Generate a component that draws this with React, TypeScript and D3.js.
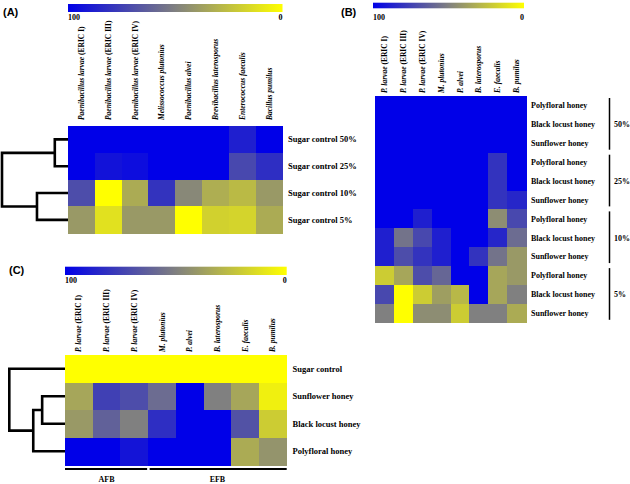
import React from "react";
import * as d3 from "d3";

// ---------- DATA ----------
const speciesFull = [
  "Paenibacillus larvae (ERIC I)",
  "Paenibacillus larvae (ERIC III)",
  "Paenibacillus larvae (ERIC IV)",
  "Melissococcus plutonius",
  "Paenibacillus alvei",
  "Brevibacillus laterosporus",
  "Enterococcus faecalis",
  "Bacillus pumilus",
];
const speciesShort = [
  "P. larvae (ERIC I)",
  "P. larvae (ERIC III)",
  "P. larvae (ERIC IV)",
  "M. plutonius",
  "P. alvei",
  "B. laterosporus",
  "E. faecalis",
  "B. pumilus",
];

const rowsA = ["Sugar control 50%", "Sugar control 25%", "Sugar control 10%", "Sugar control 5%"];
const valuesA = [
  [100, 100, 100, 100, 100, 100, 88, 100],
  [100, 93, 95, 100, 100, 100, 72, 82],
  [70, 0, 33, 80, 47, 32, 27, 40],
  [40, 12, 40, 40, 0, 18, 17, 33],
];
// linkage: [childA, childB, height] (index >= n refers to an earlier merge)
const linkA: [number, number, number][] = [
  [0, 1, 0.2],
  [2, 3, 0.47],
  [4, 5, 1],
];

const honeysB = ["Polyfloral honey", "Black locust honey", "Sunflower honey"];
const concB = ["50%", "25%", "10%", "5%"];
const valuesB = [
  [100, 100, 100, 100, 100, 100, 100, 100],
  [100, 100, 100, 100, 100, 100, 100, 100],
  [100, 100, 100, 100, 100, 100, 100, 100],
  [100, 100, 100, 100, 100, 100, 80, 100],
  [100, 100, 100, 100, 100, 100, 80, 100],
  [100, 100, 100, 100, 100, 100, 80, 85],
  [100, 100, 88, 100, 100, 100, 45, 72],
  [88, 55, 72, 88, 100, 100, 85, 58],
  [88, 70, 80, 88, 100, 80, 55, 40],
  [20, 35, 70, 60, 100, 100, 35, 40],
  [72, 0, 20, 38, 28, 100, 35, 50],
  [50, 0, 45, 45, 20, 50, 50, 33],
];

const rowsC = ["Sugar control", "Sunflower honey", "Black locust honey", "Polyfloral honey"];
const valuesC = [
  [0, 0, 0, 0, 0, 0, 0, 0],
  [35, 75, 70, 58, 100, 50, 35, 6],
  [40, 62, 50, 82, 100, 100, 68, 20],
  [100, 100, 92, 100, 100, 100, 33, 42],
];
const linkC: [number, number, number][] = [
  [1, 2, 0.41],
  [4, 3, 0.57],
  [0, 5, 1],
];
const groupsC = [
  { name: "AFB", count: 3 },
  { name: "EFB", count: 5 },
];

const colorbarTicks = [100, 0];

// ---------- STYLE ----------
const SERIF = "'Liberation Serif', 'Times New Roman', serif";
const SANS = "'Liberation Sans', Arial, sans-serif";

const color = d3
  .scaleLinear<string>()
  .domain([100, 50, 0])
  .range(["#0000e8", "#808080", "#ffff00"])
  .interpolate(d3.interpolateRgb);

function SpeciesLabel({ text, x, y, size }: { text: string; x: number; y: number; size: number }) {
  const i = text.indexOf(" (");
  const main = i >= 0 ? text.slice(0, i) : text;
  const rest = i >= 0 ? text.slice(i) : "";
  return (
    <text
      transform={`translate(${x},${y}) rotate(-90)`}
      dy="0.35em"
      fontFamily={SERIF}
      fontSize={size}
      fontWeight="bold"
    >
      <tspan fontStyle="italic">{main}</tspan>
      {rest && <tspan>{rest}</tspan>}
    </text>
  );
}

function Colorbar({ id, x0, x1, y, h, labelY }: { id: string; x0: number; x1: number; y: number; h: number; labelY: number }) {
  const s = d3.scaleLinear().domain([100, 0]).range([x0, x1]);
  const stops = d3.range(0, 11).map((i) => 100 - i * 10);
  return (
    <g>
      <defs>
        <linearGradient id={id} x1="0" x2="1" y1="0" y2="0">
          {stops.map((v) => (
            <stop key={v} offset={`${100 - v}%`} stopColor={color(v)} />
          ))}
        </linearGradient>
      </defs>
      <rect x={x0} y={y} width={x1 - x0} height={h} fill={`url(#${id})`} />
      {colorbarTicks.map((t, i) => (
        <text
          key={t}
          x={s(t)}
          y={labelY}
          textAnchor={i === 0 ? "start" : "end"}
          fontFamily={SERIF}
          fontSize={8}
          fontWeight="bold"
        >
          {t}
        </text>
      ))}
    </g>
  );
}

function Heatmap({
  rows,
  cols,
  values,
  x0,
  x1,
  y0,
  y1,
}: {
  rows: string[];
  cols: string[];
  values: number[][];
  x0: number;
  x1: number;
  y0: number;
  y1: number;
}) {
  const xs = d3.scaleBand<number>().domain(d3.range(cols.length)).range([x0, x1]);
  const ys = d3.scaleBand<number>().domain(d3.range(rows.length)).range([y0, y1]);
  return (
    <g shapeRendering="crispEdges">
      {values.map((row, r) =>
        row.map((v, c) => (
          <rect
            key={`${r}-${c}`}
            x={xs(c)}
            y={ys(r)}
            width={xs.bandwidth() + 0.6}
            height={ys.bandwidth() + 0.6}
            fill={color(v)}
          />
        ))
      )}
    </g>
  );
}

function Dendrogram({
  n,
  link,
  y0,
  y1,
  xLeaf,
  xRoot,
}: {
  n: number;
  link: [number, number, number][];
  y0: number;
  y1: number;
  xLeaf: number;
  xRoot: number;
}) {
  const ys = d3.scaleBand<number>().domain(d3.range(n)).range([y0, y1]);
  const xs = d3.scaleLinear().domain([0, 1]).range([xLeaf, xRoot]);
  const pos: { x: number; y: number }[] = d3.range(n).map((i) => ({ x: xs(0), y: (ys(i) as number) + ys.bandwidth() / 2 }));
  const paths: string[] = [];
  link.forEach(([a, b, h]) => {
    const pa = pos[a];
    const pb = pos[b];
    const x = xs(h);
    const p = d3.path();
    p.moveTo(pa.x, pa.y);
    p.lineTo(x, pa.y);
    p.lineTo(x, pb.y);
    p.lineTo(pb.x, pb.y);
    paths.push(p.toString());
    pos.push({ x, y: (pa.y + pb.y) / 2 });
  });
  return (
    <g fill="none" stroke="#000" strokeWidth={2.6} strokeLinejoin="miter" strokeLinecap="butt">
      {paths.map((d, i) => (
        <path key={i} d={d} />
      ))}
    </g>
  );
}

function RowLabels({ rows, x, y0, y1, size }: { rows: string[]; x: number; y0: number; y1: number; size: number }) {
  const ys = d3.scaleBand<number>().domain(d3.range(rows.length)).range([y0, y1]);
  return (
    <g>
      {rows.map((r, i) => (
        <text
          key={i}
          x={x}
          y={(ys(i) as number) + ys.bandwidth() / 2}
          dy="0.35em"
          fontFamily={SERIF}
          fontSize={size}
          fontWeight="bold"
        >
          {r}
        </text>
      ))}
    </g>
  );
}

function ColLabels({ cols, x0, x1, y, size }: { cols: string[]; x0: number; x1: number; y: number; size: number }) {
  const xs = d3.scaleBand<number>().domain(d3.range(cols.length)).range([x0, x1]);
  return (
    <g>
      {cols.map((c, i) => (
        <SpeciesLabel key={i} text={c} x={(xs(i) as number) + xs.bandwidth() / 2} y={y} size={size} />
      ))}
    </g>
  );
}

export default function App() {
  // Panel geometry
  const A = { x0: 68, x1: 282.5, y0: 126, y1: 233.3 };
  const B = { x0: 375, x1: 526, y0: 96, y1: 322.8 };
  const C = { x0: 65, x1: 286.7, y0: 355, y1: 465 };

  const rowsB: string[] = [];
  concB.forEach(() => honeysB.forEach((h) => rowsB.push(h)));
  const groupScaleB = d3.scaleBand<string>().domain(concB).range([B.y0, B.y1]);

  const colScaleC = d3.scaleBand<number>().domain(d3.range(speciesShort.length)).range([C.x0, C.x1]);
  let acc = 0;
  const groupSpans = groupsC.map((g) => {
    const start = acc;
    acc += g.count;
    const xa = colScaleC(start) as number;
    const xb = (colScaleC(acc - 1) as number) + colScaleC.bandwidth();
    return { ...g, xa, xb };
  });

  return (
    <div style={{ position: "fixed", left: 0, top: 0, background: "#fff" }}>
      <svg width={630} height={484} viewBox="0 0 630 484" style={{ display: "block" }}>
        <rect width={630} height={484} fill="#fff" />

        {/* Panel A */}
        <text x={3} y={15.5} fontFamily={SANS} fontWeight="bold" fontSize={11}>
          (A)
        </text>
        <Colorbar id="gA" x0={A.x0} x1={A.x1} y={4} h={8} labelY={20} />
        <ColLabels cols={speciesFull} x0={A.x0} x1={A.x1} y={120} size={7.5} />
        <Heatmap rows={rowsA} cols={speciesFull} values={valuesA} {...A} />
        <RowLabels rows={rowsA} x={288} y0={A.y0} y1={A.y1} size={8.5} />
        <Dendrogram n={rowsA.length} link={linkA} y0={A.y0} y1={A.y1} xLeaf={A.x0} xRoot={2} />

        {/* Panel B */}
        <text x={341} y={15.5} fontFamily={SANS} fontWeight="bold" fontSize={11}>
          (B)
        </text>
        <Colorbar id="gB" x0={373} x1={524} y={2.7} h={5.6} labelY={20} />
        <ColLabels cols={speciesShort} x0={B.x0} x1={B.x1} y={93} size={7.5} />
        <Heatmap rows={rowsB} cols={speciesShort} values={valuesB} {...B} />
        <RowLabels rows={rowsB} x={531} y0={B.y0} y1={B.y1} size={8} />
        {concB.map((c) => {
          const gy = groupScaleB(c) as number;
          const gh = groupScaleB.bandwidth();
          return (
            <g key={c}>
              <line x1={609.5} x2={609.5} y1={gy + 2} y2={gy + gh - 3} stroke="#000" strokeWidth={1.5} />
              <text x={614} y={gy + gh / 2} dy="0.35em" fontFamily={SERIF} fontSize={8} fontWeight="bold">
                {c}
              </text>
            </g>
          );
        })}

        {/* Panel C */}
        <text x={9} y={273.5} fontFamily={SANS} fontWeight="bold" fontSize={11}>
          (C)
        </text>
        <Colorbar id="gC" x0={C.x0} x1={C.x1} y={266.7} h={8.3} labelY={283} />
        <ColLabels cols={speciesShort} x0={C.x0} x1={C.x1} y={352} size={7.5} />
        <Heatmap rows={rowsC} cols={speciesShort} values={valuesC} {...C} />
        <RowLabels rows={rowsC} x={292.5} y0={C.y0} y1={C.y1} size={8.5} />
        <Dendrogram n={rowsC.length} link={linkC} y0={C.y0} y1={C.y1} xLeaf={C.x0} xRoot={9.3} />
        {groupSpans.map((g, i) => (
          <g key={g.name}>
            <line
              x1={g.xa + (i === 0 ? 0 : 1.5)}
              x2={g.xb - (i === 0 ? 1 : 0)}
              y1={469}
              y2={469}
              stroke="#000"
              strokeWidth={2}
            />
            <text
              x={(g.xa + g.xb) / 2}
              y={482}
              textAnchor="middle"
              fontFamily={SERIF}
              fontSize={8}
              fontWeight="bold"
            >
              {g.name}
            </text>
          </g>
        ))}
      </svg>
    </div>
  );
}
